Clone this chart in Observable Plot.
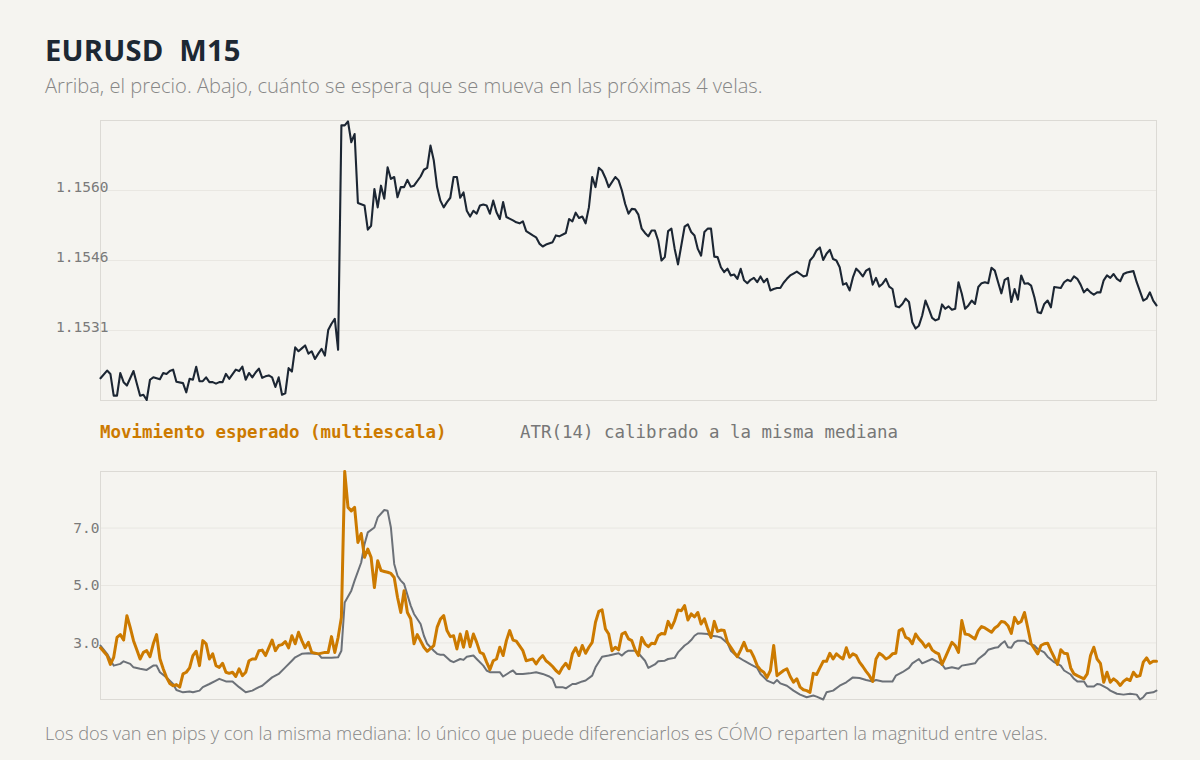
<!DOCTYPE html>
<html>
<head>
<meta charset="utf-8">
<script src="https://cdn.jsdelivr.net/npm/d3@7"></script>
<script src="https://cdn.jsdelivr.net/npm/@observablehq/plot@0.6"></script>
<style>
  html, body { margin: 0; padding: 0; background: #f5f4f0; }
  body { width: 1200px; height: 760px; position: relative; overflow: hidden; }
  .abs { position: absolute; white-space: nowrap; }
  #title { left: 45px; top: 36px; font: 700 29.2px/29px "Open Sans", sans-serif; color: #1d2833; letter-spacing: 0.2px; }
  #subtitle { left: 45px; top: 76px; font: 300 20.1px/20px "Open Sans", sans-serif; color: #868686; }
  #legend { left: 100px; top: 422px; font: 17.45px/20px "DejaVu Sans Mono", monospace; }
  #legend .a { color: #cc7a00; font-weight: 700; }
  #legend .b { color: #777; position: absolute; left: 420px; top: 0; }
  #footer { left: 45px; top: 724px; font: 300 18.2px/18px "Open Sans", sans-serif; color: #868686; }
  #top { left: 0; top: 110px; }
  #bottom { left: 0; top: 460px; }
</style>
</head>
<body>
<div id="title" class="abs">EURUSD&nbsp; M15</div>
<div id="subtitle" class="abs">Arriba, el precio. Abajo, cuánto se espera que se mueva en las próximas 4 velas.</div>
<div id="top" class="abs"></div>
<div id="legend" class="abs"><span class="a">Movimiento esperado (multiescala)</span><span class="b">ATR(14) calibrado a la misma mediana</span></div>
<div id="bottom" class="abs"></div>
<div id="footer" class="abs">Los dos van en pips y con la misma mediana: lo único que puede diferenciarlos es CÓMO reparten la magnitud entre velas.</div>
<script>
// ---- data: [bar index, value] ----
const priceDomain = [1.15165, 1.15745];
const priceTicks = [1.1531, 1.15455, 1.1560];
const priceTickLabels = ["1.1531", "1.1546", "1.1560"];

const price = [[0,1.15211],[2,1.15227],[3,1.15220],[4,1.15175],[5,1.15175],[6,1.15222],[7,1.15203],[8,1.15196],[10,1.15226],[11,1.15200],[12,1.15175],[13,1.15177],[14,1.15166],[15,1.15208],[16,1.15213],[18,1.15209],[19,1.15222],[20,1.15220],[21,1.15226],[22,1.15229],[23,1.15204],[25,1.15201],[26,1.15182],[27,1.15210],[28,1.15208],[29,1.15235],[30,1.15205],[31,1.15205],[32,1.15213],[33,1.15203],[34,1.15203],[35,1.15200],[36,1.15203],[37,1.15203],[38,1.15220],[39,1.15210],[41,1.15229],[42,1.15226],[43,1.15235],[44,1.15208],[45,1.15222],[46,1.15213],[47,1.15223],[48,1.15231],[49,1.15212],[50,1.15215],[51,1.15217],[52,1.15213],[53,1.15193],[54,1.15213],[55,1.15177],[56,1.15180],[57,1.15232],[58,1.15225],[59,1.15275],[60,1.15267],[61,1.15273],[62,1.15279],[63,1.15262],[64,1.15267],[65,1.15251],[66,1.15262],[67,1.15272],[68,1.15258],[69,1.15311],[70,1.15324],[71,1.15334],[72,1.15270],[73,1.15735],[74,1.15735],[75,1.15743],[76,1.15700],[77,1.15717],[78,1.15574],[80,1.15569],[81,1.15519],[82,1.15527],[83,1.15603],[84,1.15565],[85,1.15610],[86,1.15583],[87,1.15648],[88,1.15624],[89,1.15628],[90,1.15586],[91,1.15607],[92,1.15607],[93,1.15622],[94,1.15608],[95,1.15610],[97,1.15629],[98,1.15643],[99,1.15647],[100,1.15693],[101,1.15662],[102,1.15607],[103,1.15579],[104,1.15565],[105,1.15576],[106,1.15585],[107,1.15628],[108,1.15628],[109,1.15585],[110,1.15596],[111,1.15558],[112,1.15546],[113,1.15558],[114,1.15552],[115,1.15569],[116,1.15571],[117,1.15569],[118,1.15552],[119,1.15579],[120,1.15555],[121,1.15541],[122,1.15576],[123,1.15545],[125,1.15538],[126,1.15534],[127,1.15532],[128,1.15536],[129,1.15516],[131,1.15507],[132,1.15503],[133,1.15490],[134,1.15484],[135,1.15488],[137,1.15493],[138,1.15507],[139,1.15505],[141,1.15512],[142,1.15541],[143,1.15536],[144,1.15554],[145,1.15543],[146,1.15546],[147,1.15532],[148,1.15565],[149,1.15628],[150,1.15607],[151,1.15647],[152,1.15641],[153,1.15626],[154,1.15607],[156,1.15628],[157,1.15621],[158,1.15600],[159,1.15572],[160,1.15552],[161,1.15562],[162,1.15561],[163,1.15550],[164,1.15521],[165,1.15512],[166,1.15505],[167,1.15517],[168,1.15517],[169,1.15496],[170,1.15455],[171,1.15462],[172,1.15516],[173,1.15521],[174,1.15479],[175,1.15447],[176,1.15486],[177,1.15525],[178,1.15530],[179,1.15514],[180,1.15507],[181,1.15479],[182,1.15465],[183,1.15514],[184,1.15521],[185,1.15521],[186,1.15463],[187,1.15462],[188,1.15441],[189,1.15431],[190,1.15438],[191,1.15424],[192,1.15426],[193,1.15417],[194,1.15438],[195,1.15414],[196,1.15408],[197,1.15415],[198,1.15419],[199,1.15410],[200,1.15422],[201,1.15410],[202,1.15417],[203,1.15393],[204,1.15396],[205,1.15398],[206,1.15398],[207,1.15409],[208,1.15417],[209,1.15424],[210,1.15428],[211,1.15432],[212,1.15427],[213,1.15422],[214,1.15424],[215,1.15455],[216,1.15463],[217,1.15476],[218,1.15482],[219,1.15456],[220,1.15469],[221,1.15477],[222,1.15458],[223,1.15455],[224,1.15441],[225,1.15405],[226,1.15408],[227,1.15393],[228,1.15420],[229,1.15438],[230,1.15431],[231,1.15422],[232,1.15434],[233,1.15438],[234,1.15405],[235,1.15419],[236,1.15401],[237,1.15407],[238,1.15417],[239,1.15401],[240,1.15396],[241,1.15360],[242,1.15358],[243,1.15365],[244,1.15376],[245,1.15369],[246,1.15327],[247,1.15314],[248,1.15320],[249,1.15341],[250,1.15372],[251,1.15355],[252,1.15336],[253,1.15331],[254,1.15334],[255,1.15364],[256,1.15355],[257,1.15360],[258,1.15353],[259,1.15355],[260,1.15410],[261,1.15386],[262,1.15355],[263,1.15362],[264,1.15372],[265,1.15365],[266,1.15400],[267,1.15408],[268,1.15410],[269,1.15408],[270,1.15440],[271,1.15434],[272,1.15410],[273,1.15387],[274,1.15415],[275,1.15419],[276,1.15369],[277,1.15396],[278,1.15374],[279,1.15424],[280,1.15407],[281,1.15408],[282,1.15403],[283,1.15379],[284,1.15348],[285,1.15346],[286,1.15365],[287,1.15372],[288,1.15358],[289,1.15400],[291,1.15398],[292,1.15410],[293,1.15415],[294,1.15412],[295,1.15422],[296,1.15417],[297,1.15405],[298,1.15389],[299,1.15396],[300,1.15389],[301,1.15384],[302,1.15389],[303,1.15389],[304,1.15414],[305,1.15424],[306,1.15419],[307,1.15427],[308,1.15417],[309,1.15412],[310,1.15427],[311,1.15430],[313,1.15433],[314,1.15410],[316,1.15372],[317,1.15376],[318,1.15389],[319,1.15372],[320,1.15362]];

const moveDomain = [1.03, 8.97];
const moveTicks = [3, 5, 7];
const moveTickLabels = ["3.0", "5.0", "7.0"];

const expected = [[0,2.83],[2,2.56],[3,2.25],[4,2.50],[5,3.19],[6,3.29],[7,3.10],[8,3.95],[9,3.54],[10,3.08],[11,2.76],[12,2.44],[13,2.67],[14,2.73],[15,2.52],[16,2.97],[17,3.29],[18,2.45],[19,2.10],[20,1.80],[21,1.59],[22,1.51],[23,1.55],[24,1.46],[25,1.92],[26,1.98],[27,2.13],[28,2.56],[29,2.71],[30,2.21],[31,3.08],[32,2.97],[33,2.44],[34,2.62],[35,2.21],[36,2.15],[37,2.29],[38,1.98],[39,1.94],[40,1.98],[41,1.83],[42,2.10],[43,1.86],[44,1.98],[45,2.38],[46,2.44],[47,2.44],[48,2.73],[49,2.75],[50,2.56],[51,2.83],[52,3.10],[53,2.73],[54,2.91],[55,2.94],[56,3.05],[57,2.83],[58,3.25],[59,2.97],[60,3.37],[61,3.08],[62,2.83],[63,3.02],[64,2.67],[66,2.62],[68,2.67],[69,2.67],[70,3.22],[71,2.67],[72,3.19],[73,3.89],[74,8.97],[75,7.72],[76,7.60],[77,7.72],[78,6.50],[79,6.81],[80,5.98],[81,6.27],[82,5.98],[83,4.93],[84,5.86],[85,5.52],[86,5.49],[87,5.46],[88,5.42],[89,5.28],[90,4.59],[91,4.06],[92,4.82],[93,4.06],[94,3.84],[95,2.97],[96,3.29],[98,2.85],[99,2.71],[101,2.91],[102,3.54],[103,3.83],[104,3.95],[105,3.43],[106,3.22],[107,3.25],[108,2.79],[109,3.31],[110,2.85],[111,3.40],[112,2.87],[113,3.31],[114,3.02],[115,2.67],[116,2.62],[117,2.33],[118,2.07],[119,2.38],[120,2.44],[121,2.85],[122,2.56],[123,3.08],[124,3.43],[125,3.10],[126,3.06],[128,2.73],[129,2.38],[130,2.41],[131,2.44],[132,2.27],[133,2.44],[134,2.56],[135,2.38],[136,2.29],[137,2.18],[138,2.04],[139,1.94],[140,2.15],[141,2.29],[142,2.10],[143,2.62],[144,2.83],[145,2.56],[146,2.91],[147,2.64],[148,2.85],[149,3.02],[150,3.72],[151,4.10],[152,4.15],[153,3.49],[154,3.31],[155,2.73],[156,2.85],[157,2.76],[158,3.31],[159,3.37],[160,3.14],[161,3.08],[162,2.76],[163,2.56],[164,3.19],[165,2.97],[166,2.87],[167,2.99],[168,2.97],[169,3.25],[170,3.33],[171,3.31],[172,3.75],[173,3.52],[174,3.78],[175,4.15],[176,4.12],[177,4.30],[178,3.80],[179,4.01],[180,3.91],[181,4.06],[182,3.66],[183,3.84],[184,3.49],[185,3.19],[186,3.75],[187,3.40],[188,3.45],[189,3.43],[190,3.02],[191,2.85],[192,2.67],[193,2.52],[194,2.76],[195,3.02],[196,2.73],[197,2.73],[198,2.50],[199,2.21],[200,2.06],[201,1.98],[202,1.80],[203,2.04],[204,2.91],[205,1.86],[207,2.04],[208,2.10],[209,1.83],[210,1.63],[211,1.75],[212,1.46],[213,1.37],[214,1.34],[215,1.28],[216,1.94],[217,1.90],[218,2.13],[219,2.36],[220,2.36],[221,2.64],[222,2.44],[223,2.62],[224,2.52],[225,2.44],[226,2.83],[227,2.50],[228,2.62],[229,2.56],[230,2.33],[231,2.18],[232,2.01],[233,1.86],[234,1.66],[235,2.44],[236,2.64],[237,2.56],[238,2.44],[239,2.50],[240,2.62],[241,2.64],[242,3.43],[243,3.49],[244,3.19],[245,3.14],[246,2.97],[247,3.31],[248,3.14],[249,3.02],[250,2.85],[251,2.97],[252,2.76],[253,2.67],[254,2.62],[255,2.25],[256,2.50],[257,2.76],[258,3.02],[259,2.91],[260,2.67],[261,3.78],[262,3.31],[263,3.29],[265,3.14],[266,3.43],[267,3.57],[268,3.52],[270,3.37],[271,3.52],[272,3.60],[273,3.75],[274,3.72],[275,3.60],[276,3.33],[277,3.89],[278,3.68],[279,3.75],[280,4.06],[281,3.52],[282,2.97],[284,2.62],[285,2.91],[286,2.97],[287,2.99],[288,2.73],[289,2.50],[290,2.25],[291,2.76],[292,2.64],[293,2.62],[294,2.13],[295,1.92],[296,1.86],[298,1.75],[299,1.92],[300,2.56],[301,2.85],[302,2.44],[303,2.29],[304,1.63],[305,1.98],[306,1.63],[307,1.75],[308,1.66],[309,1.52],[310,1.66],[311,1.75],[312,1.69],[313,1.98],[314,1.83],[315,1.86],[316,2.33],[317,2.48],[318,2.29],[319,2.36],[320,2.36]];

const atr = [[0,2.91],[2,2.62],[4,2.21],[6,2.27],[7,2.36],[9,2.27],[10,2.15],[12,2.10],[14,2.06],[16,2.21],[17,2.21],[18,1.98],[20,1.80],[22,1.57],[23,1.36],[25,1.28],[27,1.31],[28,1.28],[30,1.34],[31,1.46],[33,1.57],[35,1.69],[36,1.75],[38,1.66],[40,1.66],[42,1.46],[44,1.28],[46,1.34],[48,1.46],[49,1.51],[52,1.80],[54,1.92],[56,2.15],[58,2.38],[59,2.50],[61,2.62],[63,2.64],[65,2.62],[66,2.62],[67,2.48],[70,2.48],[72,2.50],[73,2.73],[74,4.41],[76,4.82],[77,5.17],[79,5.80],[80,6.44],[81,6.85],[83,7.02],[84,7.37],[86,7.63],[87,7.60],[88,7.02],[89,5.75],[90,5.34],[91,5.17],[92,5.05],[94,4.30],[95,4.01],[97,3.66],[98,3.25],[99,2.97],[101,2.73],[102,2.62],[103,2.59],[104,2.59],[106,2.38],[107,2.33],[109,2.44],[110,2.41],[111,2.52],[113,2.56],[114,2.44],[116,2.21],[117,2.04],[118,1.98],[120,1.98],[121,1.98],[122,1.83],[124,1.98],[125,2.04],[126,1.92],[128,1.92],[130,1.94],[132,1.98],[134,1.92],[136,1.83],[137,1.75],[138,1.46],[140,1.46],[141,1.42],[143,1.57],[144,1.57],[146,1.66],[147,1.69],[149,1.86],[150,2.15],[152,2.52],[154,2.56],[155,2.59],[157,2.64],[158,2.56],[159,2.67],[160,2.73],[162,2.73],[163,2.64],[165,2.38],[166,2.13],[168,2.25],[169,2.36],[171,2.38],[172,2.44],[174,2.48],[175,2.67],[177,2.91],[178,2.99],[179,3.10],[180,3.25],[181,3.33],[182,3.33],[184,3.31],[185,3.25],[187,3.22],[188,3.19],[190,2.99],[191,2.73],[193,2.52],[195,2.38],[197,2.25],[199,2.13],[200,1.92],[202,1.69],[204,1.59],[205,1.71],[206,1.59],[208,1.51],[210,1.34],[212,1.20],[214,1.11],[216,1.17],[217,1.13],[219,1.03],[220,1.28],[222,1.34],[224,1.51],[226,1.63],[228,1.80],[230,1.78],[232,1.71],[234,1.66],[235,1.71],[237,1.66],[240,1.66],[241,1.86],[243,1.98],[245,2.13],[246,2.29],[248,2.44],[249,2.29],[252,2.44],[253,2.38],[255,2.25],[256,2.10],[258,2.15],[260,2.10],[261,2.21],[263,2.25],[265,2.29],[266,2.44],[268,2.62],[269,2.76],[271,2.83],[272,2.85],[273,2.97],[274,3.06],[275,2.85],[276,2.83],[277,3.02],[278,3.08],[280,3.08],[281,2.99],[283,2.91],[284,2.79],[286,2.67],[287,2.52],[289,2.33],[291,2.21],[292,2.04],[294,1.90],[295,1.75],[296,1.66],[298,1.66],[299,1.48],[301,1.48],[302,1.57],[303,1.55],[305,1.43],[306,1.34],[308,1.23],[310,1.20],[312,1.23],[314,1.20],[315,1.03],[316,1.11],[317,1.25],[319,1.28],[320,1.34]];

const barDomain = [0, 320];

// ---- styles ----
const C = { price: "#1c2633", expected: "#cc7a00", atr: "#6c7178", grid: "#e9e7e2", frame: "#dcdad5", tick: "#7a7a7a" };
const baseStyle = { background: "transparent", fontFamily: "'DejaVu Sans Mono', monospace", fontSize: "14.5px", color: C.tick, overflow: "visible" };

const topPlot = Plot.plot({
  width: 1200, height: 300,
  marginLeft: 100, marginRight: 44, marginTop: 10, marginBottom: 10,
  style: baseStyle,
  x: { domain: barDomain, axis: null },
  y: { domain: priceDomain, axis: null },
  marks: [
    Plot.gridY(priceTicks, { stroke: C.grid, strokeOpacity: 1, strokeWidth: 1 }),
    Plot.frame({ stroke: C.frame, strokeWidth: 1 }),
    Plot.line(price, { x: d => d[0], y: d => d[1], stroke: C.price, strokeWidth: 2.1, strokeLinejoin: "round" }),
    Plot.axisY(priceTicks, { anchor: "left", tickSize: 0, tickPadding: 0, dx: 8, dy: -3,
      tickFormat: d => priceTickLabels[priceTicks.indexOf(d)], label: null })
  ]
});
document.getElementById("top").appendChild(topPlot);

const bottomPlot = Plot.plot({
  width: 1200, height: 250,
  marginLeft: 100, marginRight: 44, marginTop: 11, marginBottom: 11,
  style: baseStyle,
  x: { domain: barDomain, axis: null },
  y: { domain: moveDomain, axis: null },
  marks: [
    Plot.gridY(moveTicks, { stroke: C.grid, strokeOpacity: 1, strokeWidth: 1 }),
    Plot.frame({ stroke: C.frame, strokeWidth: 1 }),
    Plot.line(atr, { x: d => d[0], y: d => d[1], stroke: C.atr, strokeWidth: 2, strokeLinejoin: "round" }),
    Plot.line(expected, { x: d => d[0], y: d => d[1], stroke: C.expected, strokeWidth: 3, strokeLinejoin: "round" }),
    Plot.axisY(moveTicks, { anchor: "left", tickSize: 0, tickPadding: 0, dx: -1,
      tickFormat: d => moveTickLabels[moveTicks.indexOf(d)], label: null })
  ]
});
document.getElementById("bottom").appendChild(bottomPlot);
</script>
</body>
</html>
